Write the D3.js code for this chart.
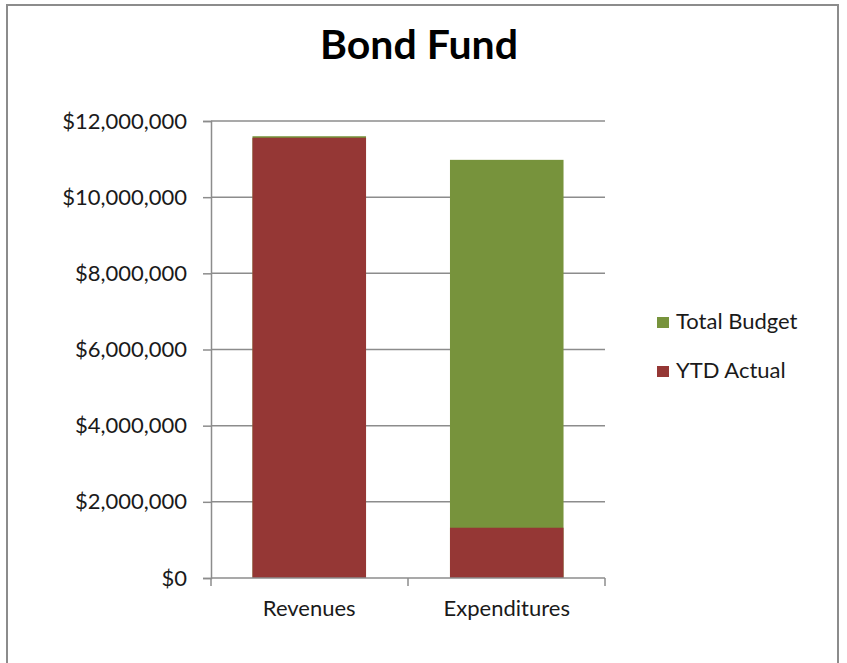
<!DOCTYPE html>
<html>
<head>
<meta charset="utf-8">
<script src="https://cdn.jsdelivr.net/npm/d3@7"></script>
<style>
  body { margin: 0; background: #fff; }
  svg { display: block; }
  text { font-family: Lato, "Open Sans", sans-serif; fill: #1a1a1a; }
</style>
</head>
<body>
<div id="chart"></div>
<script>
!(function(){
    "use strict"

    var categories = ["Revenues", "Expenditures"];
    var totalBudget = [11600000, 10980000];
    var ytdActual = [11560000, 1320000];
    var seriesNames = ["Total Budget", "YTD Actual"];
    var seriesColors = ["#77933c", "#953735"];
    var yTicks = [0, 2000000, 4000000, 6000000, 8000000, 10000000, 12000000];

    var width = 847, height = 663;
    var left = 211, right = 605, top = 121, bottom = 578;

    var svg = d3.select("#chart").append("svg")
        .attr("width", width)
        .attr("height", height);

    // chart frame
    svg.append("rect")
        .attr("x", 7).attr("y", 5)
        .attr("width", 831).attr("height", 680)
        .attr("fill", "#fff")
        .attr("stroke", "#8c8c8c")
        .attr("stroke-width", 2);

    svg.append("text")
        .attr("x", 419).attr("y", 59)
        .attr("text-anchor", "middle")
        .style("font-size", "41px")
        .style("font-weight", "bold")
        .style("fill", "#000")
        .text("Bond Fund");

    var x = d3.scaleBand().domain(categories).range([left, right]).paddingInner(0.425).paddingOuter(0.21);
    var y = d3.scaleLinear().domain([0, 12000000]).range([bottom, top]);

    // gridlines
    svg.append("g").selectAll("line")
        .data(yTicks.slice(1))
        .join("line")
        .attr("x1", left).attr("x2", right)
        .attr("y1", function(d){ return y(d); })
        .attr("y2", function(d){ return y(d); })
        .attr("stroke", "#8c8c8c")
        .attr("stroke-width", 1.5);

    var fmt = function(d){ return "$" + d3.format(",")(d); };

    var yAxis = svg.append("g")
        .attr("transform", "translate(" + left + ",0)")
        .call(d3.axisLeft(y).tickValues(yTicks).tickFormat(fmt).tickSize(8).tickPadding(16));

    // bars: budget behind, actual in front
    var rows = categories.map(function(c, i){ return { cat: c, budget: totalBudget[i], actual: ytdActual[i] }; });

    svg.append("g").selectAll("rect")
        .data(rows)
        .join("rect")
        .attr("x", function(d){ return x(d.cat); })
        .attr("width", x.bandwidth())
        .attr("y", function(d){ return y(d.budget); })
        .attr("height", function(d){ return y(0) - y(d.budget); })
        .attr("fill", seriesColors[0]);

    svg.append("g").selectAll("rect")
        .data(rows)
        .join("rect")
        .attr("x", function(d){ return x(d.cat); })
        .attr("width", x.bandwidth())
        .attr("y", function(d){ return y(d.actual); })
        .attr("height", function(d){ return y(0) - y(d.actual); })
        .attr("fill", seriesColors[1]);

    var xAxis = svg.append("g")
        .attr("transform", "translate(0," + bottom + ")")
        .call(d3.axisBottom(x).tickSize(0).tickPadding(22));

    // category boundary ticks
    var bounds = [left, (left + right) / 2, right];
    xAxis.selectAll(".bound")
        .data(bounds)
        .join("line")
        .attr("class", "bound")
        .attr("x1", function(d){ return d; }).attr("x2", function(d){ return d; })
        .attr("y1", 0).attr("y2", 8)
        .attr("stroke", "#8c8c8c")
        .attr("stroke-width", 1.5);

    [yAxis, xAxis].forEach(function(g){
        g.select(".domain").attr("stroke", "#8c8c8c").attr("stroke-width", 1.5);
        g.selectAll(".tick line").attr("stroke", "#8c8c8c").attr("stroke-width", 1.5);
        g.selectAll(".tick text")
            .style("font-family", "Lato, 'Open Sans', sans-serif")
            .style("font-size", "22px")
            .style("fill", "#1a1a1a");
    });
    xAxis.select(".domain").attr("d", "M" + left + ",0H" + right);

    // legend
    var legend = svg.append("g").selectAll("g")
        .data(seriesNames)
        .join("g")
        .attr("transform", function(d, i){ return "translate(657," + (317 + i * 49) + ")"; });
    legend.append("rect")
        .attr("width", 12).attr("height", 11)
        .attr("fill", function(d, i){ return seriesColors[i]; });
    legend.append("text")
        .attr("x", 19).attr("y", 12)
        .style("font-size", "22px")
        .text(function(d){ return d; });
}());
</script>
</body>
</html>
